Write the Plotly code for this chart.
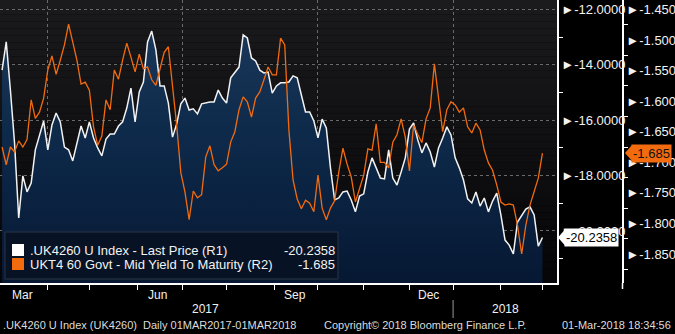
import pandas as pd
import plotly.graph_objects as go

# ---------------- data ----------------
dates = pd.bdate_range("2017-03-01", "2018-03-01")[::-2][::-1]

uk4260 = [
    -14.19, -13.17, -14.91, -16.82, -19.53, -18.01, -18.59, -18.27, -17.07, -16.50,
    -16.03, -17.07, -16.17, -15.74, -16.06, -16.97, -17.07, -17.47, -16.79, -16.21,
    -16.64, -16.06, -16.64, -17.00, -17.29, -16.68, -16.50, -16.50, -16.21, -16.06,
    -15.56, -14.84, -16.06, -14.98, -14.62, -13.17, -12.78, -13.46, -14.76, -14.76,
    -15.38, -16.61, -16.14, -15.41, -15.20, -15.63, -15.59, -15.77, -15.41, -15.38,
    -15.34, -15.34, -14.91, -15.20, -15.38, -14.47, -14.26, -14.08, -12.92, -13.03,
    -13.75, -13.86, -14.19, -14.29, -14.26, -15.02, -14.76, -14.65, -14.65, -14.62,
    -14.40, -14.47, -15.09, -15.70, -15.70, -16.03, -16.64, -15.96, -16.28, -17.72,
    -18.88, -18.81, -18.59, -18.56, -18.88, -19.31, -18.74, -18.66, -17.87, -17.36,
    -17.72, -18.09, -18.12, -17.07, -18.09, -18.34, -17.87, -17.36, -16.32, -16.10,
    -16.71, -17.18, -16.82, -17.15, -17.69, -17.00, -16.64, -16.24, -16.53, -17.36,
    -17.72, -18.16, -18.84, -18.99, -18.59, -19.10, -18.81, -19.31, -18.92, -18.63,
    -19.42, -20.33, -20.51, -20.83, -19.68, -19.46, -19.21, -19.13, -19.42, -20.55,
    -20.2358,
]

ukt4 = [
    -1.675, -1.704, -1.675, -1.683, -1.665, -1.675, -1.663, -1.598, -1.628, -1.618,
    -1.595, -1.549, -1.526, -1.556, -1.533, -1.508, -1.474, -1.506, -1.533, -1.572,
    -1.569, -1.582, -1.642, -1.672, -1.657, -1.598, -1.614, -1.549, -1.564, -1.533,
    -1.505, -1.528, -1.552, -1.523, -1.547, -1.544, -1.565, -1.574, -1.546, -1.520,
    -1.511, -1.574, -1.639, -1.717, -1.749, -1.794, -1.747, -1.758, -1.753, -1.691,
    -1.673, -1.704, -1.714, -1.709, -1.703, -1.667, -1.650, -1.614, -1.593, -1.601,
    -1.626, -1.595, -1.585, -1.565, -1.544, -1.557, -1.557, -1.497, -1.508, -1.647,
    -1.729, -1.760, -1.776, -1.762, -1.767, -1.781, -1.721, -1.775, -1.794, -1.775,
    -1.763, -1.716, -1.677, -1.703, -1.724, -1.765, -1.742, -1.721, -1.678, -1.680,
    -1.637, -1.700, -1.700, -1.709, -1.667, -1.655, -1.629, -1.659, -1.714, -1.639,
    -1.654, -1.668, -1.629, -1.611, -1.539, -1.598, -1.650, -1.614, -1.601, -1.606,
    -1.618, -1.611, -1.642, -1.652, -1.636, -1.647, -1.680, -1.701, -1.713, -1.737,
    -1.765, -1.770, -1.768, -1.770, -1.803, -1.850, -1.803, -1.770, -1.747, -1.726,
    -1.685,
]

r1_ticks = [-12, -14, -16, -18, -20]
r1_minor = [-13, -15, -17, -19, -21]
r2_ticks = [-1.45, -1.50, -1.55, -1.60, -1.65, -1.70, -1.75, -1.80, -1.85]
r2_minor = [-1.475, -1.525, -1.575, -1.625, -1.675, -1.725, -1.775, -1.825, -1.875]
r1_range = [-21.88, -11.657]
r2_range = [-1.8975, -1.4345]
x_range = ["2017-03-01", "2018-03-12"]

quarter_ticks = ["2017-04-03", "2017-07-03", "2017-10-02", "2018-01-01"]
month_ticks = ["2017-05-01", "2017-06-01", "2017-08-01", "2017-09-01",
               "2017-11-01", "2017-12-01", "2018-02-01", "2018-03-01"]
month_labels = ["Mar", "Jun", "Sep", "Dec"]
month_label_dates = ["2017-03-16", "2017-06-15", "2017-09-15", "2017-12-14"]
year_labels = ["2017", "2018"]
year_label_dates = ["2017-07-18", "2018-02-05"]

name1 = ".UK4260 U Index - Last Price (R1)"
name2 = "UKT4 60 Govt - Mid Yield To Maturity (R2)"

# ---------------- layout helpers ----------------
W, H = 675, 334
PLOT_R, AX2, PLOT_B = 557, 623, 283
FONT = "Liberation Sans, Arial, sans-serif"
WHITE = "#f2f2f2"
ORANGE = "#f26b0f"


def px(x):
    return x / AX2


def py(y):
    return (PLOT_B - y) / PLOT_B


fig = go.Figure()

# baseline for area fill
fig.add_trace(go.Scatter(x=list(dates), y=[r1_range[0]] * len(dates), mode="lines",
                         line=dict(width=0), hoverinfo="skip", showlegend=False, yaxis="y"))
fig.add_trace(go.Scatter(
    x=list(dates), y=uk4260, mode="lines", name=name1, yaxis="y",
    line=dict(color=WHITE, width=1.5), fill="tonexty",
    fillgradient=dict(type="vertical",
                      colorscale=[[0, "#061833"], [0.6, "#0e2a4b"], [1, "#1a3658"]]),
    showlegend=False))
fig.add_trace(go.Scatter(
    x=list(dates), y=ukt4, mode="lines", name=name2, yaxis="y2",
    line=dict(color=ORANGE, width=1.3), showlegend=False))

# background gradient bands
shapes = []
N = 40
for k in range(N):
    t = k / (N - 1)
    c = (int(27 - 21 * t), int(27 - 21 * t), int(30 - 22 * t))
    shapes.append(dict(type="rect", xref="x domain", yref="y domain",
                       x0=0, x1=1, y0=1 - (k + 1) / N, y1=1 - k / N,
                       fillcolor=f"rgb{c}", line=dict(width=0), layer="below"))

# legend box
shapes.append(dict(type="rect", xref="paper", yref="paper",
                   x0=px(5), x1=px(338), y0=py(279), y1=py(232),
                   fillcolor="rgba(7,18,36,0.93)", line=dict(color="#2a3444", width=1),
                   layer="above"))
shapes.append(dict(type="rect", xref="paper", yref="paper",
                   x0=px(12), x1=px(24), y0=py(256), y1=py(244),
                   fillcolor="white", line=dict(width=0), layer="above"))
shapes.append(dict(type="rect", xref="paper", yref="paper",
                   x0=px(12), x1=px(24), y0=py(270), y1=py(258),
                   fillcolor=ORANGE, line=dict(width=0), layer="above"))

# year separator
shapes.append(dict(type="line", xref="x", yref="paper", x0="2018-01-01", x1="2018-01-01",
                   y0=py(300), y1=py(318), line=dict(color="#9a9a9a", width=1)))
# axis line stub below plot
shapes.append(dict(type="line", xref="paper", yref="paper", x0=px(AX2) - 0.0008,
                   x1=px(AX2) - 0.0008, y0=py(283), y1=py(289),
                   line=dict(color="white", width=1.5)))

# value tags (triangles)
r1_last, r2_last = uk4260[-1], ukt4[-1]
h1 = 8 * (r1_range[1] - r1_range[0]) / PLOT_B
h2 = 8 * (r2_range[1] - r2_range[0]) / PLOT_B
shapes.append(dict(type="path", xref="paper", yref="y",
                   path=f"M {px(558)},{r1_last} L {px(565)},{r1_last + h1} L {px(565)},{r1_last - h1} Z",
                   fillcolor="white", line=dict(width=0), layer="above"))
shapes.append(dict(type="path", xref="paper", yref="y2",
                   path=f"M {px(625)},{r2_last} L {px(632)},{r2_last + h2} L {px(632)},{r2_last - h2} Z",
                   fillcolor=ORANGE, line=dict(width=0), layer="above"))

ann = []
ann.append(dict(xref="paper", yref="y", x=px(564), y=r1_last, xanchor="left", yanchor="middle",
                text=f"{r1_last:.4f}", showarrow=False, bgcolor="white",
                font=dict(family=FONT, size=13, color="black"), borderpad=1))
ann.append(dict(xref="paper", yref="y2", x=px(631), y=r2_last, xanchor="left", yanchor="middle",
                text=f"{r2_last:.3f}", showarrow=False, bgcolor=ORANGE,
                font=dict(family=FONT, size=13, color="#111"), borderpad=1))

# legend text
ann.append(dict(xref="paper", yref="paper", x=px(28), y=py(250), xanchor="left", yanchor="middle",
                text=name1, showarrow=False, font=dict(family=FONT, size=13, color=WHITE)))
ann.append(dict(xref="paper", yref="paper", x=px(28), y=py(264), xanchor="left", yanchor="middle",
                text=name2, showarrow=False, font=dict(family=FONT, size=13, color=WHITE)))
ann.append(dict(xref="paper", yref="paper", x=px(337), y=py(250), xanchor="right", yanchor="middle",
                text=f"{r1_last:.4f}", showarrow=False, font=dict(family=FONT, size=13, color=WHITE)))
ann.append(dict(xref="paper", yref="paper", x=px(337), y=py(264), xanchor="right", yanchor="middle",
                text=f"{r2_last:.3f}", showarrow=False, font=dict(family=FONT, size=13, color=WHITE)))

# month / year labels
for lab, d in zip(month_labels, month_label_dates):
    ann.append(dict(xref="x", yref="paper", x=d, y=py(295), xanchor="center", yanchor="middle",
                    text=lab, showarrow=False, font=dict(family=FONT, size=12, color=WHITE)))
for lab, d in zip(year_labels, year_label_dates):
    ann.append(dict(xref="x", yref="paper", x=d, y=py(309), xanchor="center", yanchor="middle",
                    text=lab, showarrow=False, font=dict(family=FONT, size=12, color=WHITE)))

# footer
ann.append(dict(xref="paper", yref="paper", x=px(1), y=py(325), xanchor="left", yanchor="middle",
                text=".UK4260 U Index (UK4260)  Daily 01MAR2017-01MAR2018", showarrow=False,
                font=dict(family=FONT, size=11, color="#dcdcdc")))
ann.append(dict(xref="paper", yref="paper", x=px(425), y=py(325), xanchor="center", yanchor="middle",
                text="Copyright© 2018 Bloomberg Finance L.P.", showarrow=False,
                font=dict(family=FONT, size=11, color="#dcdcdc")))
ann.append(dict(xref="paper", yref="paper", x=px(673), y=py(325), xanchor="right", yanchor="middle",
                text="01-Mar-2018 18:34:56", showarrow=False,
                font=dict(family=FONT, size=11, color="#dcdcdc")))

fig.update_layout(
    width=W, height=H,
    margin=dict(l=0, r=W - AX2, t=0, b=H - PLOT_B, autoexpand=False),
    paper_bgcolor="black", plot_bgcolor="black",
    showlegend=False,
    shapes=shapes, annotations=ann,
    xaxis=dict(
        type="date", range=x_range, domain=[0, PLOT_R / AX2],
        rangebreaks=[dict(bounds=["sat", "mon"])],
        tickmode="array", tickvals=quarter_ticks, showticklabels=False,
        ticks="outside", ticklen=5, tickcolor="white", tickwidth=1,
        showgrid=True, gridcolor="#6a6a6a", griddash="3px,3px", gridwidth=1,
        minor=dict(tickmode="array", tickvals=month_ticks, ticks="outside", ticklen=5,
                   tickcolor="white", tickwidth=1, showgrid=False),
        showline=True, linecolor="white", linewidth=1.5, zeroline=False, fixedrange=True,
    ),
    yaxis=dict(
        range=r1_range, side="right", anchor="x",
        tickmode="array", tickvals=r1_ticks,
        ticktext=[f"►{v:.4f}" for v in r1_ticks],
        ticks="", tickfont=dict(family=FONT, size=13, color=WHITE),
        showgrid=True, gridcolor="#6a6a6a", griddash="3px,3px", gridwidth=1,
        minor=dict(tickmode="array", tickvals=r1_minor, ticks="outside", ticklen=4,
                   tickcolor="white", showgrid=False),
        showline=True, linecolor="white", linewidth=1.5, zeroline=False,
    ),
    yaxis2=dict(
        range=r2_range, side="right", overlaying="y", anchor="free", position=1.0,
        tickmode="array", tickvals=r2_ticks,
        ticktext=[f"►{v:.3f}" for v in r2_ticks],
        ticks="", tickfont=dict(family=FONT, size=13, color=WHITE),
        showgrid=False,
        minor=dict(tickmode="array", tickvals=r2_minor, ticks="outside", ticklen=4,
                   tickcolor="white", showgrid=False),
        showline=True, linecolor="white", linewidth=1.5, zeroline=False,
    ),
)

fig.write_html("out.html")
